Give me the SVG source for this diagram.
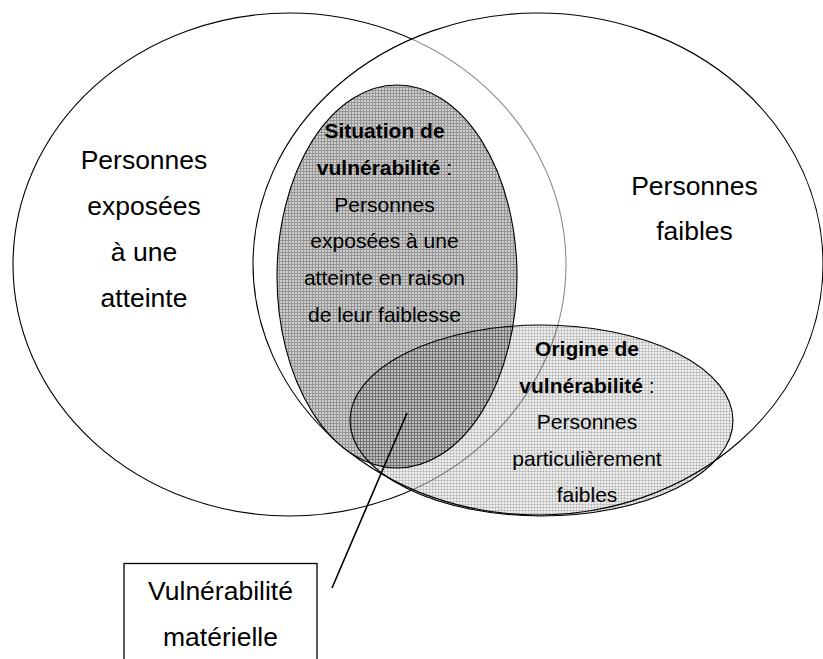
<svg xmlns="http://www.w3.org/2000/svg" width="823" height="659" viewBox="0 0 823 659">
<style>
text{font-family:"Liberation Sans",Arial,sans-serif;fill:#000;text-anchor:middle}
.big{font-size:26.5px}
.small{font-size:21px}
.b{font-weight:bold}
.outline{stroke:#000;stroke-width:1.1}
</style>
<defs>
<pattern id="pDark" width="3" height="3" patternUnits="userSpaceOnUse">
<rect width="3" height="3" fill="#cfcfcf"/>
<rect width="3" height="1" fill="#959595"/>
<rect width="1" height="3" fill="#959595"/>
</pattern>
<pattern id="pLight" width="3" height="3" patternUnits="userSpaceOnUse">
<rect width="3" height="3" fill="#000" fill-opacity="0.07"/>
<rect width="3" height="1" fill="#000" fill-opacity="0.14"/>
<rect width="1" height="3" fill="#000" fill-opacity="0.14"/>
</pattern>
</defs>
<rect width="823" height="659" fill="#fff"/>
<g id="circle-left">
<ellipse cx="289.5" cy="264.5" rx="276.5" ry="251.5" fill="none" class="outline"/>
<text class="big" x="144" y="169">Personnes</text>
<text class="big" x="144" y="215">exposées</text>
<text class="big" x="144" y="261">à une</text>
<text class="big" x="144" y="307">atteinte</text>
</g>
<g id="circle-right">
<ellipse cx="538" cy="264" rx="285" ry="251" fill="#fff" fill-opacity="0.55" class="outline"/>
<text class="big" x="694.5" y="195">Personnes</text>
<text class="big" x="694.5" y="240">faibles</text>
</g>
<g id="ellipse-situation">
<ellipse cx="397" cy="276.5" rx="120" ry="191.5" fill="url(#pDark)" class="outline"/>
<text class="small" x="384.5" y="138"><tspan class="b">Situation de</tspan></text>
<text class="small" x="384.5" y="174.5"><tspan class="b">vulnérabilité</tspan> :</text>
<text class="small" x="384.5" y="211.5">Personnes</text>
<text class="small" x="384.5" y="248">exposées à une</text>
<text class="small" x="384.5" y="285">atteinte en raison</text>
<text class="small" x="384.5" y="321.5">de leur faiblesse</text>
</g>
<g id="ellipse-origine">
<ellipse cx="541.5" cy="420.5" rx="191.5" ry="95.5" fill="url(#pLight)" class="outline"/>
<text class="small" x="587" y="356"><tspan class="b">Origine de</tspan></text>
<text class="small" x="587" y="392.5"><tspan class="b">vulnérabilité</tspan> :</text>
<text class="small" x="587" y="429">Personnes</text>
<text class="small" x="587" y="465.5">particulièrement</text>
<text class="small" x="587" y="502">faibles</text>
</g>
<g id="box-materielle">
<rect x="124" y="563.5" width="193" height="100" fill="#fff" stroke="#000" stroke-width="1.3"/>
<text class="big" x="220.5" y="599.5">Vulnérabilité</text>
<text class="big" x="220.5" y="646">matérielle</text>
</g>
<g id="connectors">
<line x1="407" y1="413" x2="332" y2="588" stroke="#000" stroke-width="1.6"/>
</g>
</svg>
